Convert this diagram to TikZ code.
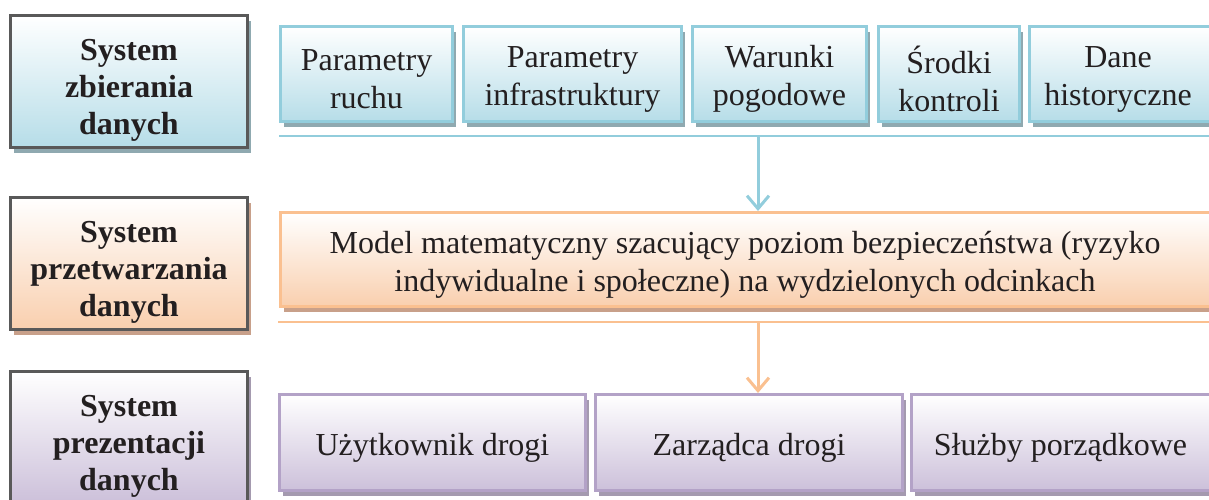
\documentclass[tikz,border=0pt]{standalone}
\usepackage{fontspec}
\setmainfont{Liberation Serif}
\usetikzlibrary{arrows.meta}
\definecolor{bB}{HTML}{92CDDC}
\definecolor{bF}{HTML}{B6DDE8}
\definecolor{bS}{HTML}{8FA9B0}
\definecolor{oB}{HTML}{FAC090}
\definecolor{oF}{HTML}{F9CFAE}
\definecolor{oS}{HTML}{C8A08A}
\definecolor{pB}{HTML}{B3A2C7}
\definecolor{pF}{HTML}{CCC0DA}
\definecolor{pS}{HTML}{A49AAF}
\definecolor{gB}{HTML}{595959}
\definecolor{txt}{HTML}{231F20}
\begin{document}
\begin{tikzpicture}[x=1pt,y=-1pt,
  base/.style={rectangle, inner sep=0pt, line width=3pt},
  tx/.style={align=center, text=txt, inner sep=0pt, yshift=-5pt,
    font=\fontsize{32}{38}\selectfont},
  btx/.style={tx, font=\bfseries\fontsize{32}{37}\selectfont, yshift=-4pt},
  sh/.style={preaction={fill=#1, transform canvas={shift={(3pt,-5pt)}}}},
  bluebox/.style={base, draw=bB, top color=white, bottom color=bF, middle color=bF!50, sh=bS},
  orangebox/.style={base, draw=oB, top color=white, bottom color=oF, middle color=oF!50, sh=oS},
  purplebox/.style={base, draw=pB, top color=white, bottom color=pF, middle color=pF!50, sh=pS},
  sysdim/.style={draw=gB, minimum width=237pt, minimum height=132pt},
  bar/.style={line width=2.2pt},
  arr/.style={line width=3pt, -{Straight Barb[length=13pt,width=22pt,line width=3pt]}}
]
\useasboundingbox (0,0) rectangle (1209,499);
\begin{scope}
\clip (0,0) rectangle (1209,499);
% left column
\node[bluebox, sysdim, label={[btx]center:System\\zbierania\\danych}] (s1) at (129,81.5) {};
\node[orangebox, sysdim, label={[btx]center:System\\przetwarzania\\danych}] (s2) at (129,263.5) {};
\node[purplebox, sysdim, label={[btx]center:System\\prezentacji\\danych}] (s3) at (129,437.5) {};
% top row
\node[bluebox, minimum width=172pt, minimum height=95pt, label={[tx]center:Parametry\\ruchu}] (r1) at (366.5,74) {};
\node[bluebox, minimum width=218pt, minimum height=95pt, label={[tx]center:Parametry\\infrastruktury}] (r2) at (572.5,74) {};
\node[bluebox, minimum width=174pt, minimum height=95pt, label={[tx]center:Warunki\\pogodowe}] (r3) at (779.5,74) {};
\node[bluebox, minimum width=141pt, minimum height=95pt, label={[tx]center:Środki\\kontroli}] (r4) at (949,74) {};
\node[bluebox, minimum width=183pt, minimum height=95pt, label={[tx, xshift=-3pt]center:Dane\\historyczne}] (r5) at (1121,74) {};
\coordinate (l1a) at (279,136);
\coordinate (l1b) at (1212,136);
\draw[bar, bB] (l1a) -- (l1b);
% model
\node[orangebox, minimum width=935pt, minimum height=94pt,
  label={[tx, xshift=-3pt]center:Model matematyczny szacujący poziom bezpieczeństwa (ryzyko\\indywidualne i społeczne) na wydzielonych odcinkach}] (m) at (748,259.5) {};
\coordinate (a1) at (758,136);
\draw[arr, bB] (a1) -- (a1 |- m.north);
\coordinate (l2a) at (278,322);
\coordinate (l2b) at (1212,322);
\draw[bar, oB] (l2a) -- (l2b);
% bottom row
\node[purplebox, minimum width=306pt, minimum height=96pt, label={[tx]center:Użytkownik drogi}] (b1) at (432.5,442.5) {};
\node[purplebox, minimum width=307pt, minimum height=96pt, label={[tx]center:Zarządca drogi}] (b2) at (749,442.5) {};
\node[purplebox, minimum width=304pt, minimum height=96pt, label={[tx, xshift=-3pt]center:Służby porządkowe}] (b3) at (1063.5,442.5) {};
\coordinate (a2) at (758,322);
\draw[arr, oB] (a2) -- (a2 |- b2.north);
\end{scope}
\end{tikzpicture}
\end{document}
